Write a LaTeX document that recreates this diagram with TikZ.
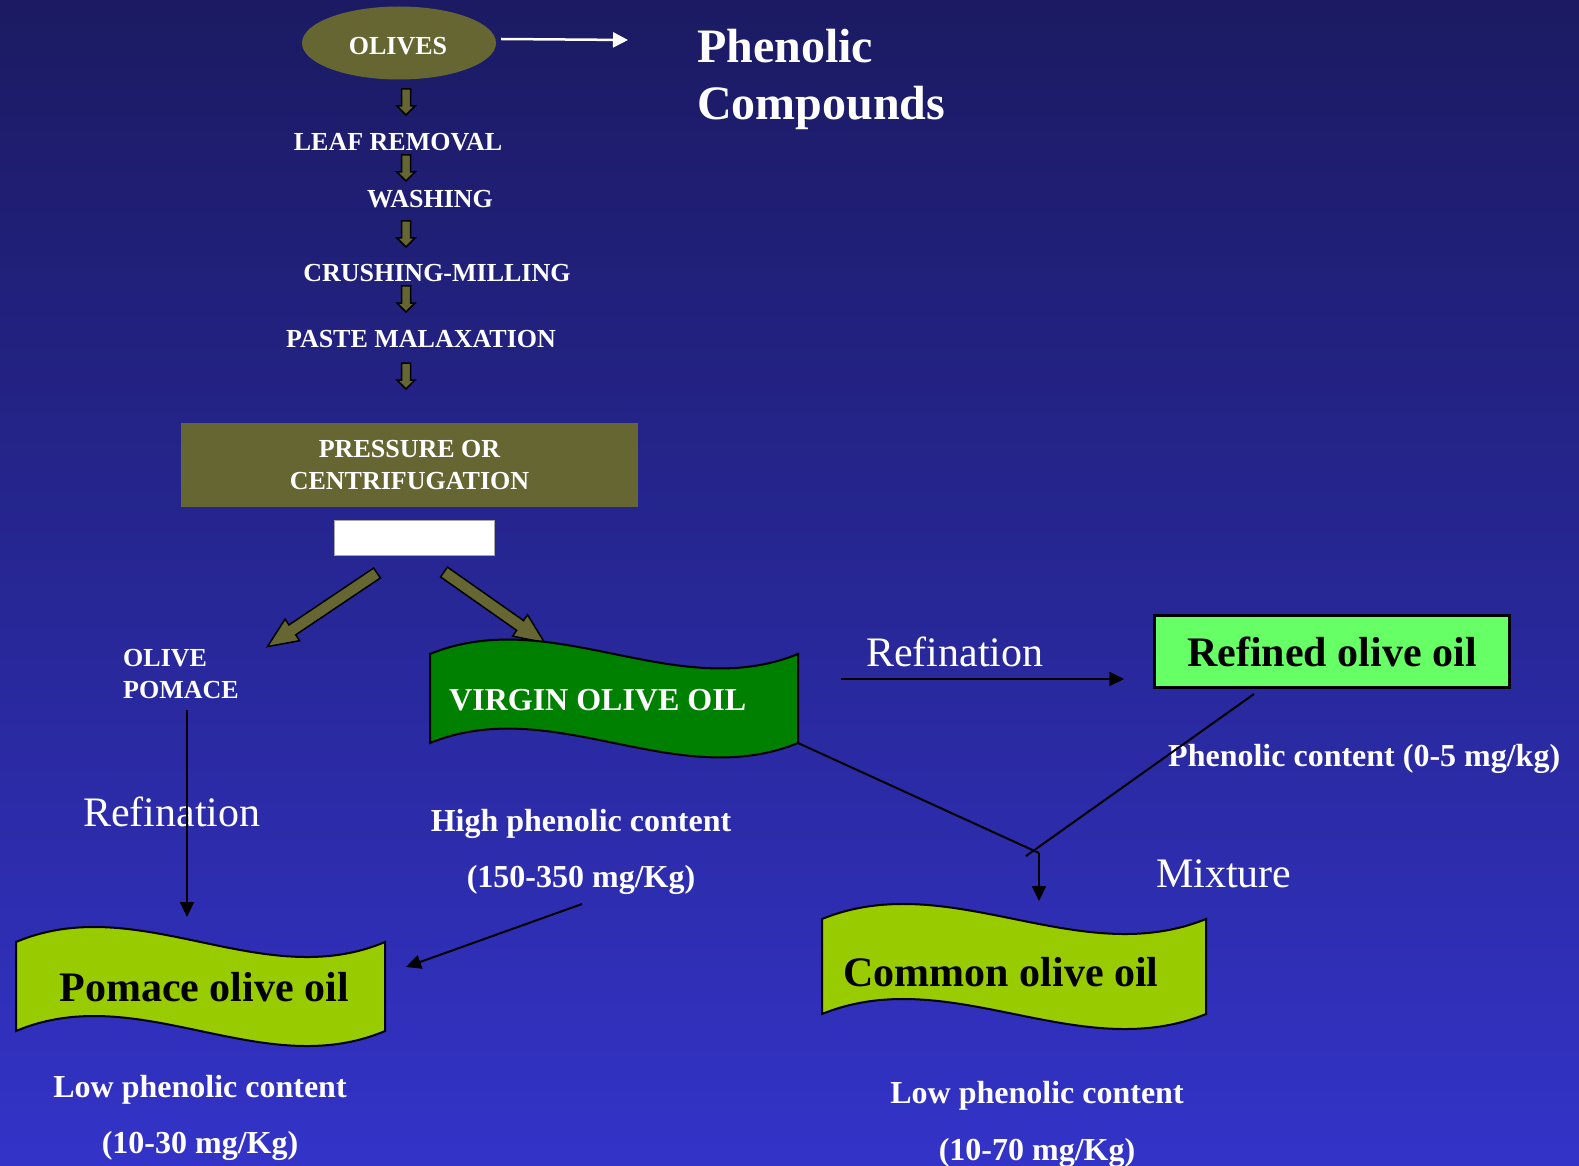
\documentclass[tikz,border=0pt]{standalone}
\usepackage{fontspec}
\setmainfont{Liberation Serif}
\usetikzlibrary{arrows.meta,shapes.geometric}

\definecolor{olivebox}{HTML}{666633}
\definecolor{virgingreen}{HTML}{008000}
\definecolor{limeoil}{HTML}{99CC00}
\definecolor{refgreen}{HTML}{66FF66}
\definecolor{bgtop}{RGB}{27,26,98}
\definecolor{bgbottom}{RGB}{51,51,200}

\tikzset{
  blockarr/.style={fill=olivebox, draw=black, line width=1.5pt, line join=miter},
  pics/downarr/.style={code={\filldraw[blockarr] (-4.5,0) -- (4.5,0) -- (4.5,17) -- (9,17) -- (0,26) -- (-9,17) -- (-4.5,17) -- cycle;}},
  pics/bigarr/.style={code={\filldraw[blockarr] (0,-6) -- (#1-30,-6) -- (#1-30,-13) -- (#1,0) -- (#1-30,13) -- (#1-30,6) -- (0,6) -- cycle;}},
  pics/banner/.style n args={4}{code={\filldraw[fill=#4, draw=black, line width=2pt] (0,0) .. controls (#1/3,-#3) and (2*#1/3,#3) .. (#1,0) -- (#1,#2) .. controls (2*#1/3,#2+#3) and (#1/3,#2-#3) .. (0,#2) -- cycle;}},
}

\begin{document}
\begin{tikzpicture}[x=1pt, y=-1pt,
  proctext/.style={text=white, font=\fontsize{26}{32}\selectfont\bfseries, inner sep=0pt},
  notetext/.style={text=white, font=\fontsize{32}{38}\selectfont\bfseries, inner sep=0pt},
  titletext/.style={text=white, font=\fontsize{48}{56}\selectfont\bfseries, inner sep=0pt},
  oiltext/.style={text=black, font=\fontsize{42}{48}\selectfont\bfseries, inner sep=0pt},
  refintext/.style={text=white, font=\fontsize{42}{48}\selectfont, inner sep=0pt},
  thinline/.style={draw=black, line width=2pt},
  thinarr/.style={thinline, -{Triangle[length=15pt,width=14pt]}},
  whitearr/.style={draw=white, line width=2.5pt, -{Triangle[length=15pt,width=15pt]}}]
  \shade[top color=bgtop, bottom color=bgbottom] (0,0) rectangle (1579,1166);
  \useasboundingbox (0,0) rectangle (1579,1166);

  \node[ellipse, fill=olivebox, minimum width=194pt, minimum height=73pt, inner sep=0pt] (olives) at (399,43) {};
  \node[proctext, anchor=base] (olivestxt) at (398,55) {OLIVES};
  \coordinate (phenin) at (628,40);
  \draw[whitearr] ([xshift=5pt,yshift=4pt]olives.east) -- (phenin);
  \node[titletext, anchor=base west] (phen) at (697,63) {Phenolic};
  \node[titletext, anchor=base west] (comp) at (697,120) {Compounds};

  \node[proctext, anchor=base] (leaf) at (398,151) {LEAF REMOVAL};
  \node[proctext, anchor=base] (wash) at (430,208) {WASHING};
  \node[proctext, anchor=base] (crush) at (437,282) {CRUSHING-MILLING};
  \node[proctext, anchor=base] (paste) at (421,347) {PASTE MALAXATION};
  \pic at (406,89) {downarr};
  \pic at (406,155) {downarr};
  \pic at (406,221) {downarr};
  \pic at (406,286) {downarr};
  \pic at (406,363) {downarr};

  \node[proctext, fill=olivebox, minimum width=457pt, minimum height=84pt, align=center] (press) at (409.5,465) {PRESSURE OR\\CENTRIFUGATION};
  \node[fill=white, draw=gray!70, line width=1.5pt, minimum width=160pt, minimum height=35pt, inner sep=0pt] (wbox) at (414.5,538) {};
  \pic[rotate=213.9] at (377,573) {bigarr=132};
  \pic[rotate=-35.1] at (444,572) {bigarr=123};

  \node[proctext, anchor=base west] (olive) at (123,666) {OLIVE};
  \node[proctext, anchor=base west] (pomace) at (123,698) {POMACE};
  \pic at (430,654) {banner={368}{89}{50}{virgingreen}};
  \node[notetext, anchor=base west] (virgin) at (449,710) {VIRGIN OLIVE OIL};

  \node[refintext, anchor=base west] (refup) at (866,666) {Refination};
  \node[oiltext, fill=refgreen, draw=black, line width=2.5pt, minimum width=355pt, minimum height=72pt] (refined) at (1332,651.5) {Refined olive oil};
  \coordinate (refstart) at (841,679);
  \draw[thinarr, shorten >=29pt] (refstart) -- (refstart -| refined.west);
  \node[notetext, anchor=base west] (phencont) at (1168,766) {Phenolic content (0-5 mg/kg)};

  \coordinate (vcorner) at (798,743);
  \coordinate (mix) at (1039,853);
  \coordinate (refout) at (1254,694);
  \coordinate (mixend) at (1026,856);
  \coordinate (comin) at (1039,901);
  \draw[thinline] (vcorner) -- (mix);
  \draw[thinline] (refout) -- (mixend);
  \draw[thinarr] (mix) -- (comin);
  \node[refintext, anchor=base west] (mixture) at (1156,887) {Mixture};

  \node[refintext, anchor=base west] (refleft) at (83,826) {Refination};
  \coordinate (pomout) at (187,710);
  \coordinate (pomin) at (187,917);
  \draw[thinarr] (pomout) -- (pomin);

  \node[notetext, anchor=base] (high) at (581,831) {High phenolic content};
  \node[notetext, anchor=base] (highval) at (581,887) {(150-350 mg/Kg)};
  \coordinate (highout) at (582,904);
  \coordinate (pomside) at (406,967);
  \draw[thinarr] (highout) -- (pomside);

  \pic at (16,942) {banner={369}{89}{52}{limeoil}};
  \node[oiltext, anchor=base] (pomoil) at (204,1001) {Pomace olive oil};
  \pic at (822,919) {banner={384}{95}{52}{limeoil}};
  \node[oiltext, anchor=base] (comoil) at (1001,986) {Common olive oil};

  \node[notetext, anchor=base] (lowpom) at (200,1097) {Low phenolic content};
  \node[notetext, anchor=base] (lowpomval) at (200,1153) {(10-30 mg/Kg)};
  \node[notetext, anchor=base] (lowcom) at (1037,1103) {Low phenolic content};
  \node[notetext, anchor=base] (lowcomval) at (1037,1160) {(10-70 mg/Kg)};
\end{tikzpicture}
\end{document}
